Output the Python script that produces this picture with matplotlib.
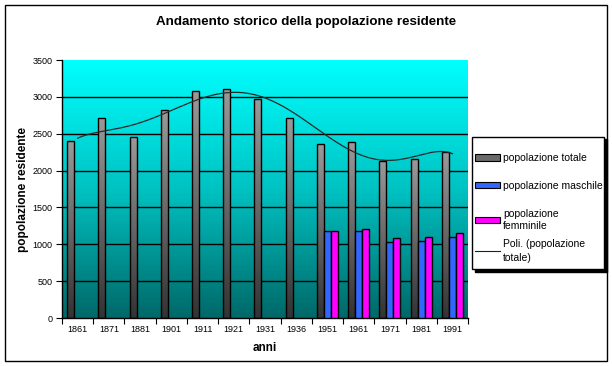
import numpy as np
import matplotlib
matplotlib.use("Agg")
import matplotlib.pyplot as plt
from matplotlib.colors import LinearSegmentedColormap
from matplotlib.patches import Rectangle, Patch
from matplotlib.lines import Line2D

plt.rcParams['font.family'] = ['Liberation Sans', 'DejaVu Sans']

anni = ['1861', '1871', '1881', '1901', '1911', '1921', '1931', '1936',
        '1951', '1961', '1971', '1981', '1991']
pop_totale = [2400, 2710, 2450, 2820, 3075, 3100, 2970, 2710,
              2360, 2385, 2130, 2155, 2250]
pop_maschile = [np.nan] * 8 + [1175, 1175, 1027, 1040, 1095]
pop_femminile = [np.nan] * 8 + [1175, 1203, 1081, 1095, 1149]

fig = plt.figure(figsize=(6.12, 3.66), dpi=100)
fig.patch.set_facecolor('white')
ax = fig.add_axes([62/612, 1-318/366, (468-62)/612, (318-60)/366])

x = np.arange(len(anni))
w = 0.225

# background gradient
bg = LinearSegmentedColormap.from_list('bg', [(0, '#006868'), (0.5, '#00c2c2'), (1, '#00ffff')])
grad = np.linspace(0, 1, 256).reshape(-1, 1)
ax.imshow(grad, cmap=bg, origin='lower', aspect='auto',
          extent=[-0.5, len(anni)-0.5, 0, 3500], zorder=0)

for yv in range(500, 3500, 500):
    ax.axhline(yv, color='black', lw=1, zorder=1)

gray = LinearSegmentedColormap.from_list('gr', ['#333333', '#9a9a9a'])
bars = ax.bar(x - w, pop_totale, w, facecolor='none', edgecolor='black', lw=1, zorder=3)
for b in bars:
    im = ax.imshow(grad, cmap=gray, origin='lower', aspect='auto',
                   extent=[b.get_x(), b.get_x()+b.get_width(), 0, b.get_height()], zorder=2)
    im.set_clip_path(b)
ax.bar(x, pop_maschile, w, color='#3366ff', edgecolor='black', lw=1, zorder=3)
ax.bar(x + w, pop_femminile, w, color='#ff00ff', edgecolor='black', lw=1, zorder=3)
ax.set_xlim(-0.5, len(anni)-0.5)
ax.set_ylim(0, 3500)

# polynomial trendline (order 6) of total population
xt = np.arange(1, len(anni)+1)
coef = np.polyfit(xt, pop_totale, 6)
xs = np.linspace(1, len(anni), 300)
ax.plot(xs - 1, np.polyval(coef, xs), color='#2a2a2a', lw=0.9, zorder=4)

ax.set_xticks(x)
ax.set_xticklabels(anni, fontsize=6.5)
ax.set_xticks(np.arange(-0.5, len(anni)), minor=True)
ax.tick_params(axis='x', which='major', length=0, pad=5)
ax.tick_params(axis='x', which='minor', length=4, direction='out', width=0.8)
ax.set_yticks(range(0, 3501, 500))
ax.set_yticklabels([str(v) for v in range(0, 3501, 500)], fontsize=6.5)
ax.tick_params(axis='y', length=4, direction='out', width=0.8, pad=3)
for s in ['top', 'right']:
    ax.spines[s].set_visible(False)
for s in ['left', 'bottom']:
    ax.spines[s].set_color('black')
    ax.spines[s].set_linewidth(1)

ax.set_xlabel('anni', fontsize=8.5, fontweight='bold', labelpad=6)
ax.set_ylabel('popolazione residente', fontsize=8.5, fontweight='bold', labelpad=2)
fig.text(306/612, 1-22/366, 'Andamento storico della popolazione residente',
         ha='center', va='center', fontsize=9.6, fontweight='bold')

# legend box with shadow
lx0, ly0, lx1, ly1 = 472, 137, 604, 269
fig.patches.append(Rectangle(((lx0+2.5)/612, 1-(ly1+2.5)/366),
                             (lx1-lx0)/612, (ly1-ly0)/366, transform=fig.transFigure,
                             facecolor='black', edgecolor='black', lw=1, zorder=1))
fig.patches.append(Rectangle((lx0/612, 1-ly1/366), (lx1-lx0)/612, (ly1-ly0)/366,
                             transform=fig.transFigure,
                             facecolor='white', edgecolor='black', lw=1, zorder=2))

handles1 = [Patch(facecolor='#6a6a6a', edgecolor='black', lw=0.8),
            Patch(facecolor='#3366ff', edgecolor='black', lw=0.8),
            Patch(facecolor='#ff00ff', edgecolor='black', lw=0.8)]
labels1 = ['popolazione totale', 'popolazione maschile', 'popolazione\nfemminile']
leg1 = fig.legend(handles1, labels1, loc='upper left',
                  bbox_to_anchor=(472/612, 1-150/366), fontsize=7.5,
                  frameon=False, handlelength=2.4, handleheight=0.6, handletextpad=0.3,
                  labelspacing=1.7, borderpad=0.0, borderaxespad=0.3)
for t in leg1.get_texts():
    t.set_linespacing(1.3)
leg1.set_zorder(5)
leg2 = fig.legend([Line2D([0], [0], color='#202020', lw=0.8)],
                  ['Poli. (popolazione\ntotale)'], loc='upper left',
                  bbox_to_anchor=(472/612, 1-236/366), fontsize=7.5,
                  frameon=False, handlelength=2.4, handletextpad=0.3,
                  borderpad=0.0, borderaxespad=0.3)
for t in leg2.get_texts():
    t.set_linespacing(1.45)
leg2.set_zorder(5)

fig.patches.append(Rectangle((5/612, 5/366), 602/612, 356/366, transform=fig.transFigure,
                             fill=False, edgecolor='black', lw=1))

fig.savefig('out.png', dpi=100)
